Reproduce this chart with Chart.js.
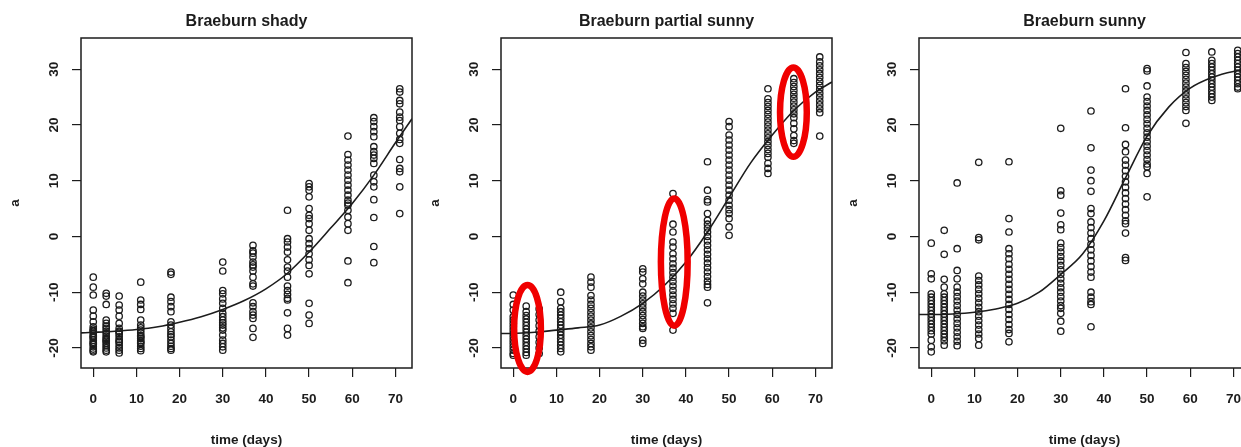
<!DOCTYPE html>
<html>
<head>
<meta charset="utf-8">
<script src="https://cdn.jsdelivr.net/npm/chart.js@4"></script>
<style>
  html, body { margin: 0; padding: 0; background: #fff; }
  body { width: 1241px; height: 447px; overflow: hidden; position: relative; }
  .panel { position: absolute; top: 0; width: 420px; height: 447px; }
</style>
</head>
<body>
<div class="panel" style="left:0"><canvas id="chart-shady" width="420" height="447"></canvas></div>
<div class="panel" style="left:420px"><canvas id="chart-partial" width="420" height="447"></canvas></div>
<div class="panel" style="left:838px"><canvas id="chart-sunny" width="420" height="447"></canvas></div>
<script>
// sampling days (x) and axis ticks
const days = [0, 3, 6, 11, 18, 30, 37, 45, 50, 59, 65, 71];
const xTicks = [0, 10, 20, 30, 40, 50, 60, 70];
const yTicks = [-20, -10, 0, 10, 20, 30];

// measured a* values, one list per sampling day
const shadyA = [
  [-7.3, -9.1, -10.5, -13.2, -14.3, -15.3, -16.2, -16.6, -16.9, -17.0, -17.4, -17.8, -18.0, -18.2, -18.6, -19.0, -19.2, -19.4, -19.8, -20.2, -20.5, -20.7],
  [-10.2, -10.7, -12.2, -15.0, -15.6, -16.1, -16.5, -17.0, -17.4, -17.9, -18.3, -18.6, -18.8, -19.2, -19.6, -20.0, -20.4, -20.7],
  [-10.7, -12.3, -13.2, -14.3, -15.6, -16.5, -17.0, -17.2, -17.5, -18.0, -18.5, -18.8, -19.0, -19.5, -20.0, -20.4, -20.9],
  [-8.2, -11.4, -12.2, -13.1, -15.0, -15.9, -16.4, -16.8, -17.3, -17.8, -18.0, -18.3, -18.7, -19.0, -19.2, -19.7, -20.1, -20.5],
  [-6.4, -6.8, -10.9, -11.7, -12.6, -13.5, -15.3, -15.9, -16.5, -17.1, -17.6, -18.0, -18.6, -19.2, -19.7, -20.1, -20.4],
  [-4.6, -6.2, -9.7, -10.3, -11.2, -12.0, -12.9, -13.8, -14.4, -15.0, -15.5, -15.9, -16.4, -16.8, -17.7, -18.6, -19.2, -19.8, -20.4],
  [-1.6, -2.6, -3.0, -3.7, -4.6, -5.1, -5.5, -6.2, -7.3, -8.5, -8.9, -11.9, -12.6, -13.5, -14.1, -14.7, -16.5, -18.1],
  [4.7, -0.4, -1.0, -1.9, -2.8, -4.2, -5.5, -6.2, -7.3, -8.9, -9.7, -10.4, -11.1, -11.4, -13.7, -16.5, -17.7],
  [9.5, 8.9, 8.3, 7.1, 5.0, 3.8, 3.2, 2.3, 1.1, -0.4, -1.3, -2.2, -3.1, -4.2, -5.2, -6.7, -12.0, -14.1, -15.6],
  [18.0, 14.7, 13.7, 12.8, 11.9, 11.0, 10.1, 9.2, 8.3, 7.4, 6.5, 6.0, 5.6, 4.7, 3.5, 2.3, 1.1, -4.4, -8.3],
  [21.3, 20.6, 19.7, 18.8, 17.9, 16.1, 15.2, 14.6, 14.0, 13.1, 11.0, 9.8, 8.9, 6.6, 3.4, -1.8, -4.7],
  [26.5, 25.9, 24.4, 23.8, 22.3, 21.4, 20.8, 19.7, 18.5, 17.4, 16.7, 13.8, 12.2, 11.6, 8.9, 4.1],
];

const partialA = [
  [-10.5, -12.2, -13.2, -14.4, -15.0, -15.6, -16.2, -16.8, -17.4, -18.0, -18.6, -19.2, -19.8, -20.4, -21.0, -21.3],
  [-12.5, -13.5, -14.2, -14.8, -15.4, -16.0, -16.6, -17.2, -17.8, -18.4, -19.0, -19.6, -20.2, -20.8, -21.3],
  [-13.0, -14.0, -15.0, -16.0, -17.0, -18.0, -19.0, -20.0, -21.0],
  [-10.0, -11.7, -12.9, -13.5, -14.1, -14.7, -15.3, -15.9, -16.5, -17.1, -17.7, -18.3, -18.9, -19.5, -20.1, -20.7],
  [-7.3, -8.2, -9.1, -10.6, -11.4, -12.2, -12.9, -13.6, -14.3, -15.0, -15.7, -16.4, -17.1, -17.8, -18.5, -19.2, -19.8, -20.4],
  [-5.8, -6.4, -7.6, -8.5, -10.0, -10.7, -11.4, -12.1, -12.8, -13.5, -14.2, -14.9, -15.6, -16.2, -16.5, -18.6, -19.2],
  [7.7, 2.2, 0.8, -1.0, -1.9, -3.1, -4.0, -4.9, -5.7, -6.5, -7.3, -8.1, -8.9, -9.7, -10.5, -11.3, -12.1, -12.9, -13.8, -16.8],
  [13.4, 8.3, 6.6, 6.2, 4.1, 2.9, 2.2, 1.5, 0.8, 0.0, -0.8, -1.6, -2.4, -3.2, -4.0, -4.8, -5.6, -6.4, -7.2, -8.0, -8.6, -9.1, -11.9],
  [20.6, 19.7, 18.2, 17.3, 16.4, 15.5, 14.6, 13.7, 12.8, 11.9, 11.0, 10.1, 9.2, 8.3, 7.4, 6.5, 5.6, 4.8, 4.1, 3.2, 1.7, 0.2],
  [26.5, 24.7, 24.0, 23.3, 22.6, 21.9, 21.2, 20.5, 19.8, 19.1, 18.4, 17.7, 17.0, 16.3, 15.6, 14.9, 14.2, 13.1, 12.2, 11.3],
  [28.3, 27.6, 26.9, 26.2, 25.5, 24.8, 24.1, 23.4, 22.7, 22.0, 21.3, 20.3, 19.3, 18.1, 17.2, 16.7],
  [32.2, 31.3, 30.6, 29.9, 29.2, 28.5, 27.8, 27.1, 26.4, 25.7, 25.0, 24.3, 23.6, 22.9, 22.2, 18.0],
];

const sunnyA = [
  [-1.2, -6.7, -7.6, -10.3, -10.9, -11.5, -12.1, -12.7, -13.3, -13.9, -14.5, -15.1, -15.7, -16.3, -16.9, -17.5, -18.6, -19.8, -20.7],
  [1.1, -3.2, -7.7, -9.1, -10.3, -10.9, -11.5, -12.1, -12.7, -13.3, -13.9, -14.5, -15.1, -15.7, -16.3, -16.9, -17.5, -18.1, -18.7, -19.5],
  [9.6, -2.2, -6.1, -7.6, -9.1, -10.0, -10.8, -11.6, -12.4, -13.2, -14.0, -14.8, -15.6, -16.4, -17.2, -18.0, -18.8, -19.6],
  [13.3, -0.2, -0.6, -7.1, -7.9, -8.7, -9.5, -10.3, -11.1, -11.9, -12.7, -13.5, -14.3, -15.1, -15.9, -16.7, -17.5, -18.3, -19.5],
  [13.4, 3.2, 0.8, -2.2, -3.1, -4.0, -5.0, -5.9, -6.8, -7.7, -8.6, -9.5, -10.4, -11.3, -12.2, -13.1, -14.0, -14.9, -15.8, -16.7, -17.4, -18.9],
  [19.4, 8.2, 7.4, 4.2, 2.1, 1.2, -1.2, -2.0, -2.8, -3.6, -4.4, -5.2, -6.0, -6.8, -7.6, -8.4, -9.2, -10.0, -10.8, -11.6, -12.4, -12.9, -13.8, -15.2, -17.0],
  [22.5, 15.9, 11.9, 10.0, 8.1, 5.0, 4.1, 2.6, 1.6, 0.6, -0.4, -1.4, -2.4, -3.4, -4.4, -5.4, -6.4, -7.3, -10.0, -10.9, -11.7, -12.2, -16.2],
  [26.5, 19.5, 16.5, 15.2, 13.7, 12.8, 11.8, 10.8, 9.8, 8.8, 7.8, 6.8, 5.8, 4.8, 3.8, 2.8, 2.3, 0.6, -3.8, -4.3],
  [30.1, 29.7, 27.0, 25.0, 24.2, 23.4, 22.6, 21.8, 21.0, 20.2, 19.4, 18.6, 17.8, 17.0, 16.2, 15.4, 14.6, 13.8, 13.0, 12.5, 11.3, 7.1],
  [33.0, 31.0, 30.3, 29.6, 28.9, 28.2, 27.5, 26.8, 26.1, 25.4, 24.7, 24.0, 23.3, 22.6, 20.3],
  [33.1, 31.6, 31.0, 30.4, 29.8, 29.2, 28.6, 28.0, 27.4, 26.8, 26.2, 25.6, 25.0, 24.4],
  [33.4, 32.8, 32.2, 31.6, 31.0, 30.4, 29.8, 29.2, 28.6, 28.0, 27.4, 26.8, 26.5],
];

// fitted curves
const fitDays = [-2.84, 0, 5, 10, 15, 20, 25, 30, 35, 40, 45, 50, 55, 60, 65, 70, 73.84];
const shadyFit = [-17.3, -17.2, -17.0, -16.7, -16.2, -15.4, -14.4, -13.1, -11.5, -9.4, -6.6, -2.8, 1.5, 5.9, 11.0, 16.8, 21.1];
const partialFit = [-17.4, -17.4, -17.2, -16.8, -16.4, -15.9, -14.3, -12.0, -8.8, -4.6, 0.8, 7.0, 13.2, 18.2, 22.6, 25.9, 27.7];
const sunnyFit = [-14.0, -14.0, -13.9, -13.6, -13.0, -12.0, -10.0, -6.8, -3.2, 2.8, 10.5, 18.0, 23.2, 26.6, 28.5, 29.6, 30.0];

// red highlights on the partial sunny panel
const circledDays = [3.3, 37.3, 64.9];
const circledLow = [-24.3, -16.0, 14.3];
const circledHigh = [-8.7, 6.8, 30.3];

const INK = "#1c1c1c";
const FONT = "'Liberation Sans', Arial, sans-serif";
const tickFont = { family: FONT, size: 13.5, weight: "bold", lineHeight: 1.2 };

// R-style box round the plot region and the panel title
const frame = {
  id: "frame",
  afterDraw(chart, args, opts) {
    const { ctx, chartArea: a } = chart;
    ctx.save();
    ctx.strokeStyle = INK;
    ctx.lineWidth = 1.5;
    ctx.strokeRect(a.left, a.top, a.right - a.left, a.bottom - a.top);
    ctx.fillStyle = INK;
    ctx.font = `bold 16px ${FONT}`;
    ctx.textAlign = "center";
    ctx.textBaseline = "middle";
    ctx.fillText(opts.title, (a.left + a.right) / 2, 22);
    ctx.restore();
  },
};

const rings = {
  id: "rings",
  afterDraw(chart, args, opts) {
    if (!opts.days) return;
    const { ctx, scales: { x, y } } = chart;
    ctx.save();
    ctx.strokeStyle = "rgb(240,0,0)";
    ctx.lineWidth = 6.5;
    opts.days.forEach((d, i) => {
      const cx = x.getPixelForValue(d);
      const rx = x.getPixelForValue(d + 3.1) - cx;
      const top = y.getPixelForValue(opts.high[i]);
      const bottom = y.getPixelForValue(opts.low[i]);
      ctx.beginPath();
      ctx.ellipse(cx, (top + bottom) / 2, rx, (bottom - top) / 2, 0, 0, Math.PI * 2);
      ctx.stroke();
    });
    ctx.restore();
  },
};

function axisGrid() {
  return { drawOnChartArea: false, drawTicks: true, tickLength: 9, color: INK, lineWidth: 1.2 };
}

function renderPanel(canvasId, title, values, fit, circled) {
  const points = [];
  days.forEach((d, i) => values[i].forEach((v) => points.push({ x: d, y: v })));
  return new Chart(document.getElementById(canvasId), {
    type: "scatter",
    data: {
      datasets: [
        {
          data: points,
          pointStyle: "circle",
          pointRadius: 3.2,
          pointHoverRadius: 3.2,
          borderColor: INK,
          borderWidth: 1.3,
          backgroundColor: "transparent",
        },
        {
          data: fitDays.map((d, i) => ({ x: d, y: fit[i] })),
          showLine: true,
          pointRadius: 0,
          borderColor: INK,
          borderWidth: 1.6,
          cubicInterpolationMode: "monotone",
        },
      ],
    },
    options: {
      responsive: false,
      animation: false,
      layout: { padding: { top: 38, right: 8, bottom: 0, left: 0 } },
      plugins: {
        legend: { display: false },
        tooltip: { enabled: false },
        frame: { title },
        rings: circled || {},
      },
      scales: {
        x: {
          type: "linear",
          min: -2.84,
          max: 73.84,
          afterBuildTicks: (s) => { s.ticks = xTicks.map((v) => ({ value: v })); },
          afterFit: (s) => { s.height = 79; },
          grid: axisGrid(),
          border: { display: false },
          ticks: { color: INK, font: tickFont, padding: 14, maxRotation: 0 },
          title: {
            display: true,
            text: "time (days)",
            color: INK,
            font: { ...tickFont, lineHeight: 1 },
            padding: { top: 0, bottom: 0 },
          },
        },
        y: {
          type: "linear",
          min: -23.6,
          max: 35.6,
          afterBuildTicks: (s) => { s.ticks = yTicks.map((v) => ({ value: v })); },
          afterFit: (s) => { s.width = 81; },
          grid: axisGrid(),
          border: { display: false },
          ticks: { color: INK, font: tickFont, padding: 8, minRotation: 90, maxRotation: 90, crossAlign: "center" },
          title: {
            display: true,
            text: "a",
            color: INK,
            font: tickFont,
            padding: { top: 7, bottom: 0 },
          },
        },
      },
    },
    plugins: [frame, rings],
  });
}

renderPanel("chart-shady", "Braeburn shady", shadyA, shadyFit);
renderPanel("chart-partial", "Braeburn partial sunny", partialA, partialFit, {
  days: circledDays,
  low: circledLow,
  high: circledHigh,
});
renderPanel("chart-sunny", "Braeburn sunny", sunnyA, sunnyFit);
</script>
</body>
</html>
